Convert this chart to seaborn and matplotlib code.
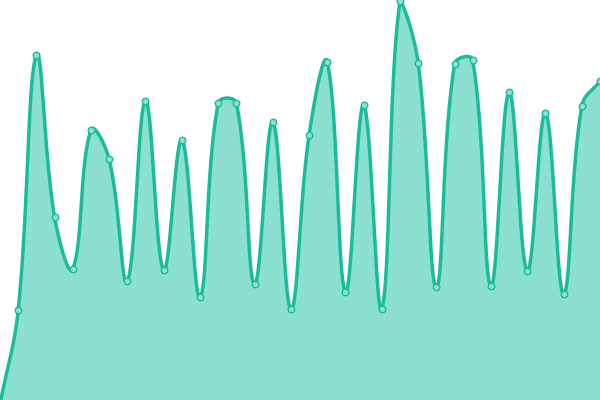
import numpy as np
import pandas as pd
import matplotlib
matplotlib.use("Agg")
import matplotlib.pyplot as plt
import seaborn as sns

# Data values (y axis 0..400)
labels = list(range(34))
values = [-4, 90, 345, 183, 131, 270, 241, 119, 299, 130, 260, 103,
          297, 297, 116, 278, 91, 265, 338, 108, 295, 91, 399, 337,
          113, 336, 340, 114, 308, 129, 287, 106, 294, 319]

LINE = "#1abc9c"
FILL = "#8be0cf"
MARK = "#8fe0cf"

sns.set_theme(style="white")

fig = plt.figure(figsize=(6, 4), dpi=100)
ax = fig.add_axes([0, 0, 1, 1])

n = len(values)
x = np.array(labels, dtype=float)
y = np.array(values, dtype=float)

# Chart.js style spline (tension 0.4) computed in pixel space
W, H = 600.0, 400.0
sx = W / (n - 1)
sy = H / 400.0
px = x * sx
py = y * sy
t = 0.4
cp_prev = np.zeros((n, 2))
cp_next = np.zeros((n, 2))
for i in range(n):
    p0 = np.array([px[max(i - 1, 0)], py[max(i - 1, 0)]])
    p1 = np.array([px[i], py[i]])
    p2 = np.array([px[min(i + 1, n - 1)], py[min(i + 1, n - 1)]])
    d01 = np.hypot(*(p1 - p0))
    d12 = np.hypot(*(p2 - p1))
    tot = d01 + d12
    s01 = d01 / tot if tot else 0
    s12 = d12 / tot if tot else 0
    fa = t * s01
    fb = t * s12
    cp_prev[i] = p1 - fa * (p2 - p0)
    cp_next[i] = p1 + fb * (p2 - p0)
cp_prev[:, 0] = np.clip(cp_prev[:, 0], 0, W)
cp_next[:, 0] = np.clip(cp_next[:, 0], 0, W)
cp_prev[:, 1] = np.clip(cp_prev[:, 1], -10, H)
cp_next[:, 1] = np.clip(cp_next[:, 1], -10, H)

xs, ys = [], []
tt = np.linspace(0, 1, 40)
for i in range(n - 1):
    P0 = np.array([px[i], py[i]])
    P1 = cp_next[i]
    P2 = cp_prev[i + 1]
    P3 = np.array([px[i + 1], py[i + 1]])
    b = ((1 - tt) ** 3)[:, None] * P0 + (3 * (1 - tt) ** 2 * tt)[:, None] * P1 \
        + (3 * (1 - tt) * tt ** 2)[:, None] * P2 + (tt ** 3)[:, None] * P3
    xs.extend(b[:, 0] / sx)
    ys.extend(b[:, 1] / sy)

curve = pd.DataFrame({"x": xs, "y": ys})
ax.fill_between(curve["x"], curve["y"], -10, color=FILL, linewidth=0)
sns.lineplot(data=curve, x="x", y="y", ax=ax, color=LINE, linewidth=2.5,
             sort=False, estimator=None)

pts = pd.DataFrame({"x": x, "y": y})
sns.scatterplot(data=pts, x="x", y="y", ax=ax, s=22, color=MARK,
                edgecolor=LINE, linewidth=1.0, zorder=5, clip_on=True)

ax.set_xlim(0, n - 1)
ax.set_ylim(0, 400)
ax.axis("off")

fig.savefig("out.png", dpi=100)
